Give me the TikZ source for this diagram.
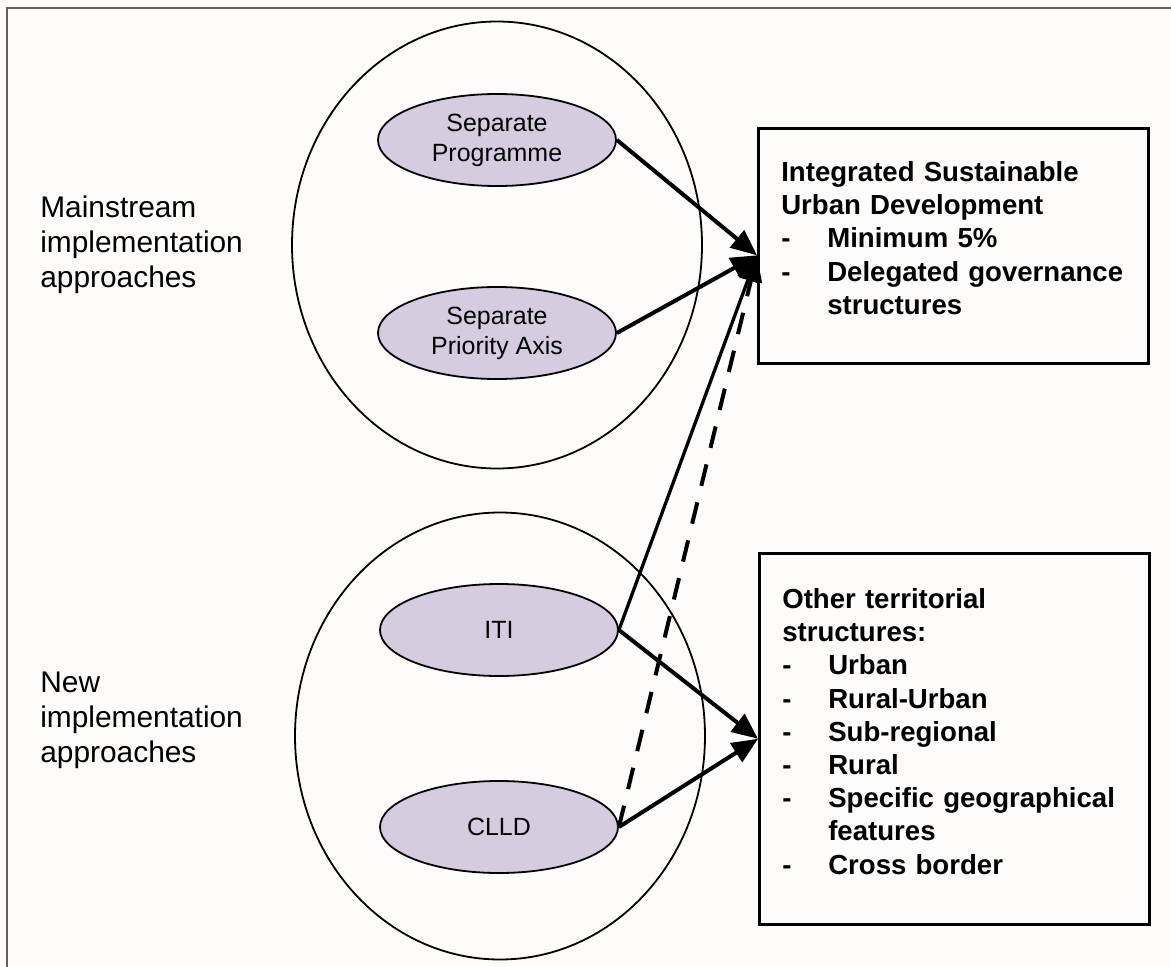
\documentclass[tikz,border=0pt]{standalone}
\usepackage{fontspec}
\setmainfont{Liberation Sans}
\usetikzlibrary{shapes.geometric,arrows.meta,calc}

\newlength{\du}
\setlength{\du}{0.02cm}

\newcommand{\dashitem}[1]{\mbox{\makebox[46\du][l]{-}#1}}
\newcommand{\hangitem}[1]{\mbox{\hspace*{46\du}#1}}

\definecolor{paper}{rgb}{0.992, 0.988, 0.980}
\definecolor{framegray}{rgb}{0.380, 0.380, 0.380}
\definecolor{ovalfill}{rgb}{0.835, 0.800, 0.875}

\tikzset{
  approach/.style={ellipse, draw=black, line width=1.8\du, minimum width=410\du, minimum height=447\du, inner sep=0pt},
  oval/.style={ellipse, draw=black, line width=1.8\du, fill=ovalfill, minimum width=238\du, minimum height=92\du, inner sep=0pt, align=center, font=\fontsize{14.2}{17}\selectfont},
  outcome/.style={rectangle, draw=black, line width=2.6\du, anchor=north west, text width=344\du, inner xsep=23\du, inner ysep=0pt, align=left, font=\fontsize{15.7}{18.9}\selectfont\bfseries},
  sidelabel/.style={anchor=west, inner sep=0pt, align=left, font=\fontsize{17}{19.9}\selectfont},
  link/.style={line width=4\du, -{Triangle[length=14.8pt,width=12.5pt]}},
}

\begin{document}
\begin{tikzpicture}
\pgftransformyscale{-1.000000}
\fill[paper] (0\du,0\du) rectangle (1171\du,967\du);
\useasboundingbox (0\du,0\du) rectangle (1171\du,967\du);
\draw[framegray, line width=2\du] (1171\du,8\du) -- (7\du,8\du) -- (7\du,967\du);

% the two groups of approaches
\node[approach] (mainstream) at (497\du,245\du) {};
\node[approach] (new) at (500\du,736\du) {};
\node[sidelabel] (mainlbl) at (40\du,245\du) {Mainstream\\implementation\\approaches};
\node[sidelabel] (newlbl) at (40\du,720\du) {New\\implementation\\approaches};

\node[oval] (prog) at (497\du,140\du) {Separate\\Programme};
\node[oval] (axis) at (497\du,333\du) {Separate\\Priority Axis};
\node[oval] (iti) at (499\du,630\du) {ITI};
\node[oval] (clld) at (499\du,827\du) {CLLD};

% the two outcomes
\node[outcome, minimum height=235\du] (isud) at (757\du,127\du) {Integrated Sustainable\\Urban Development\\\dashitem{Minimum 5\%}\\\dashitem{Delegated governance}\\\hangitem{structures}\rule[-16\du]{0pt}{0pt}};
\node[outcome, minimum height=371\du] (other) at (758\du,552\du) {Other territorial\\structures:\\\dashitem{Urban}\\\dashitem{Rural-Urban}\\\dashitem{Sub-regional}\\\dashitem{Rural}\\\dashitem{Specific geographical}\\\hangitem{features}\\\dashitem{Cross border}\rule[-15\du]{0pt}{0pt}};

\coordinate (isudin) at ($(isud.north west)!0.54!(isud.south west)$);

\draw[link] (prog.east) -- (isudin);
\draw[link] (axis.east) -- (isudin);
\draw[link, line width=3.3\du] (iti.east) -- (isudin);
\draw[link, dash pattern=on 12.5pt off 9.7pt] (clld.east) -- (isudin);
\draw[link] (iti.east) -- (other.west);
\draw[link] (clld.east) -- (other.west);
\end{tikzpicture}
\end{document}
